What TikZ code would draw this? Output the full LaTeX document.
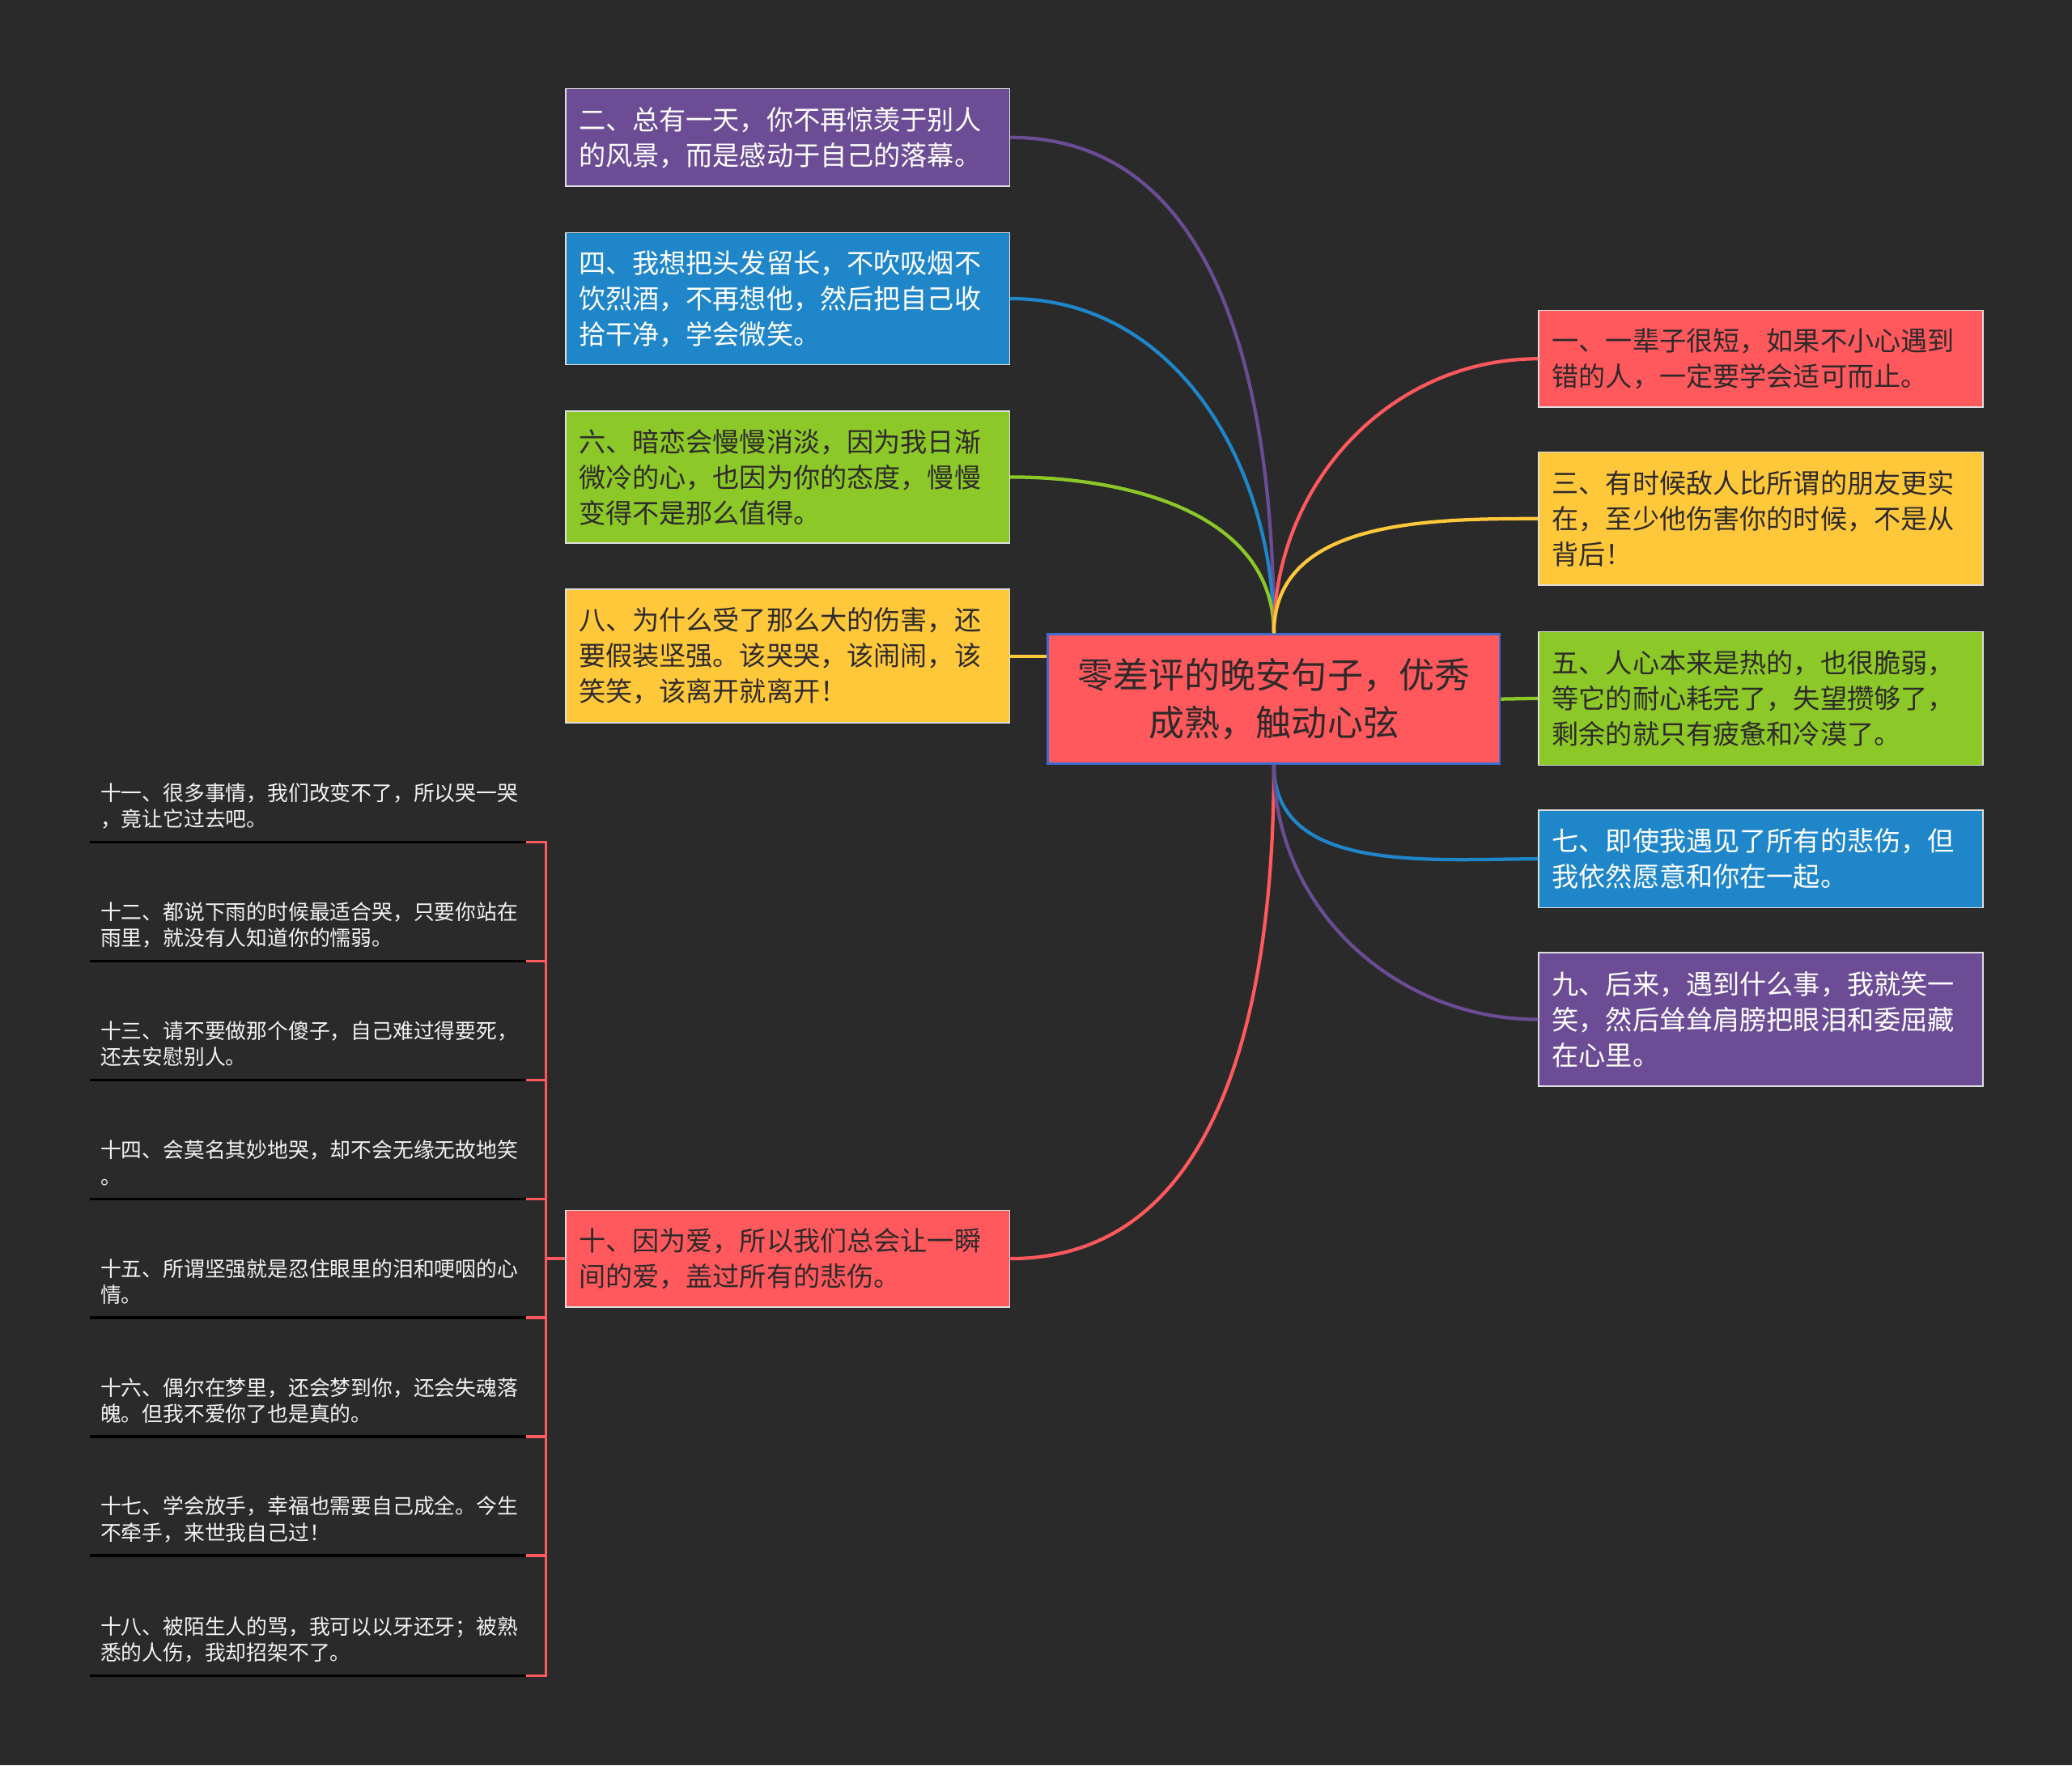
\documentclass[tikz,border=0pt]{standalone}
\usepackage{fontspec}
\setmainfont{Noto Sans CJK SC}
\definecolor{bgc}{HTML}{2A2A2A}
\definecolor{cred}{HTML}{FF585D}
\definecolor{cyel}{HTML}{FFC83B}
\definecolor{cgrn}{HTML}{8CC827}
\definecolor{cblu}{HTML}{1E86C9}
\definecolor{cpur}{HTML}{6B4C95}
\definecolor{darktext}{HTML}{2E2A2A}
\definecolor{boxedge}{HTML}{DDDDDD}
\definecolor{rootedge}{HTML}{3D6BD1}
\definecolor{subtext}{HTML}{F2F2F2}

\begin{document}
\begin{tikzpicture}[x=1pt,y=1pt,
    box/.style={draw=boxedge, line width=1pt, text width=316pt, inner xsep=10pt, inner ysep=0pt,
        align=left, font=\fontsize{20.3}{27}\selectfont},
    redbox/.style={box, fill=cred, text=darktext},
    ylwbox/.style={box, fill=cyel, text=darktext},
    grnbox/.style={box, fill=cgrn, text=darktext},
    blubox/.style={box, fill=cblu, text=white},
    purbox/.style={box, fill=cpur, text=white},
    rootbox/.style={draw=rootedge, line width=1.5pt, fill=cred, text=darktext, minimum width=342pt,
        minimum height=98pt, align=center, font=\fontsize{27}{36}\selectfont},
    sub/.style={text width=314pt, inner xsep=8pt, inner ysep=0pt, minimum height=54pt, align=left,
        text=subtext, font=\fontsize{15.8}{20}\selectfont},
    link/.style={line width=2.6pt},
    uline/.style={line width=2pt, black},
    brk/.style={line width=2pt, cred}]

    \fill[bgc] (0,0) rectangle (1568,-1336);

    % centre
    \node[rootbox] (root) at (964,-529) {零差评的晚安句子，优秀\\成熟，触动心弦};

    % left branches
    \node[purbox, minimum height=74pt] (b2) at (596,-104) {二、总有一天，你不再惊羡于别人\\的风景，而是感动于自己的落幕。};
    \node[blubox, minimum height=100pt] (b4) at (596,-226) {四、我想把头发留长，不吹吸烟不\\饮烈酒，不再想他，然后把自己收\\拾干净，学会微笑。};
    \node[grnbox, minimum height=100pt] (b6) at (596,-361) {六、暗恋会慢慢消淡，因为我日渐\\微冷的心，也因为你的态度，慢慢\\变得不是那么值得。};
    \node[ylwbox, minimum height=101pt] (b8) at (596,-496.5) {八、为什么受了那么大的伤害，还\\要假装坚强。该哭哭，该闹闹，该\\笑笑，该离开就离开！};
    \node[redbox, minimum height=73pt] (b10) at (596,-952.5) {十、因为爱，所以我们总会让一瞬\\间的爱，盖过所有的悲伤。};

    % right branches
    \node[redbox, minimum height=73pt] (b1) at (1332.5,-271.5) {一、一辈子很短，如果不小心遇到\\错的人，一定要学会适可而止。};
    \node[ylwbox, minimum height=101pt] (b3) at (1332.5,-392.5) {三、有时候敌人比所谓的朋友更实\\在，至少他伤害你的时候，不是从\\背后！};
    \node[grnbox, minimum height=101pt] (b5) at (1332.5,-528.5) {五、人心本来是热的，也很脆弱，\\等它的耐心耗完了，失望攒够了，\\剩余的就只有疲惫和冷漠了。};
    \node[blubox, minimum height=74pt] (b7) at (1332.5,-650) {七、即使我遇见了所有的悲伤，但\\我依然愿意和你在一起。};
    \node[purbox, minimum height=101pt] (b9) at (1332.5,-771.5) {九、后来，遇到什么事，我就笑一\\笑，然后耸耸肩膀把眼泪和委屈藏\\在心里。};

    % connectors
    \draw[link, cpur] (root.north) to[out=90,in=0] (b2.east);
    \draw[link, cblu] (root.north) to[out=90,in=0] (b4.east);
    \draw[link, cgrn] (root.north) to[out=90,in=0] (b6.east);
    \draw[link, cyel] (b8.east) -- (b8.east -| root.west);
    \draw[link, cred] (root.south) to[out=-90,in=0] (b10.east);
    \draw[link, cred] (root.north) to[out=90,in=180] (b1.west);
    \draw[link, cyel] (root.north) to[out=90,in=180] (b3.west);
    \draw[link, cgrn] (root.east) -- (b5.west);
    \draw[link, cblu] (root.south) to[out=-90,in=180] (b7.west);
    \draw[link, cpur] (root.south) to[out=-90,in=180] (b9.west);

    % sub items of ten
    \node[sub] (s11) at (233,-610) {十一、很多事情，我们改变不了，所以哭一哭\\，竟让它过去吧。};
    \node[sub] (s12) at (233,-700) {十二、都说下雨的时候最适合哭，只要你站在\\雨里，就没有人知道你的懦弱。};
    \node[sub] (s13) at (233,-790) {十三、请不要做那个傻子，自己难过得要死，\\还去安慰别人。};
    \node[sub] (s14) at (233,-880) {十四、会莫名其妙地哭，却不会无缘无故地笑\\。};
    \node[sub] (s15) at (233,-970) {十五、所谓坚强就是忍住眼里的泪和哽咽的心\\情。};
    \node[sub] (s16) at (233,-1060) {十六、偶尔在梦里，还会梦到你，还会失魂落\\魄。但我不爱你了也是真的。};
    \node[sub] (s17) at (233,-1150) {十七、学会放手，幸福也需要自己成全。今生\\不牵手，来世我自己过！};
    \node[sub] (s18) at (233,-1241) {十八、被陌生人的骂，我可以以牙还牙；被熟\\悉的人伤，我却招架不了。};

    \foreach \i in {11,...,18}
        \draw[uline] (s\i.south west) -- (s\i.south east);
    \draw[brk] (s11.south east) -- ++(15,0) |- (s18.south east);
    \foreach \i in {12,...,17}
        \draw[brk] (s\i.south east) -- ++(15,0);
    \draw[brk] (b10.west) -- ++(-15,0);
\end{tikzpicture}
\end{document}
